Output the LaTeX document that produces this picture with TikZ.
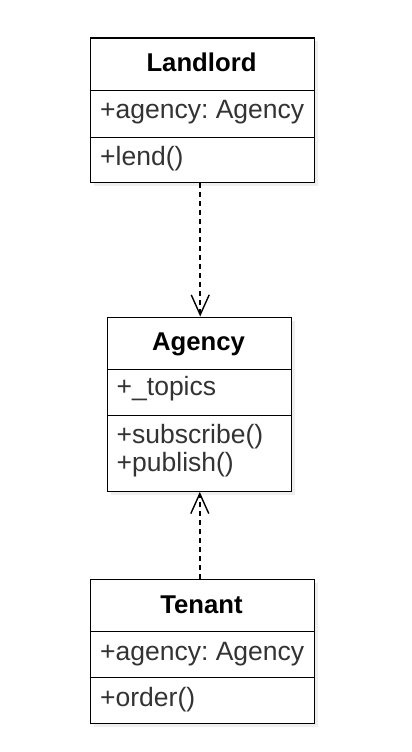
\documentclass[tikz,border=0pt]{standalone}
\usepackage{fontspec}
\setmainfont{Liberation Sans}
\usetikzlibrary{arrows.meta}
\definecolor{txt}{HTML}{333333}
\definecolor{shadowc}{HTML}{EEEEEE}
\frenchspacing
\tikzset{
  comp/.style={draw=black, line width=1.4pt, rectangle, inner sep=0pt, anchor=north west, fill=white},
  shad/.style={fill=shadowc, draw=none},
  title/.style={font=\fontsize{25.7}{28}\selectfont\bfseries, text=black, inner sep=0pt, anchor=base},
  member/.style={font=\fontsize{26.5}{28}\selectfont, text=txt, inner sep=0pt, anchor=base west},
  dep/.style={line width=1.5pt, dash pattern=on 5pt off 4pt, -{Straight Barb[length=20pt,width=18pt,line width=1.4pt]}}
}
\begin{document}
\begin{tikzpicture}[x=1pt,y=-1pt]
\useasboundingbox (0,0) rectangle (412,752);
% shadows
\fill[shad] (93.5,41.5) rectangle (317.5,185.5);
\fill[shad] (110.5,320.5) rectangle (294.5,494.5);
\fill[shad] (93.5,583) rectangle (317.5,726.5);
% Landlord
\node[comp, minimum width=224pt, minimum height=52.5pt] (lT) at (89.5,37.5) {};
\node[comp, minimum width=224pt, minimum height=46.5pt] (lA) at (89.5,90) {};
\node[comp, minimum width=224pt, minimum height=45pt] (lM) at (89.5,136.5) {};
\node[title] (lTt) at (201.5,71.7) {Landlord};
\node[member] (lAt) at (100,118) {+agency: Agency};
\node[member] (lMt) at (100,165) {+lend()};
% Agency
\node[comp, minimum width=184pt, minimum height=52pt] (aT) at (106.5,316.5) {};
\node[comp, minimum width=184pt, minimum height=46.5pt] (aA) at (106.5,368.5) {};
\node[comp, minimum width=184pt, minimum height=75.5pt] (aM) at (106.5,415) {};
\node[title] (aTt) at (198.5,350) {Agency};
\node[member] (aAt) at (116.5,395) {+\_topics};
\node[member] (aM1) at (116.5,443.3) {+subscribe()};
\node[member] (aM2) at (116.5,471.5) {+publish()};
% Tenant
\node[comp, minimum width=224pt, minimum height=51.5pt] (tT) at (89.5,579) {};
\node[comp, minimum width=224pt, minimum height=46pt] (tA) at (89.5,630.5) {};
\node[comp, minimum width=224pt, minimum height=46pt] (tM) at (89.5,676.5) {};
\node[title] (tTt) at (201.5,613.3) {Tenant};
\node[member] (tAt) at (100,660) {+agency: Agency};
\node[member] (tMt) at (100,706.7) {+order()};
% connectors
\coordinate (c1) at ([xshift=1pt]aT.north |- lM.south);
\draw[dep] (c1) -- ([xshift=1pt]aT.north);
\coordinate (c2) at ([xshift=0.6pt]aM.south |- tT.north);
\draw[dep] (c2) -- ([xshift=0.6pt]aM.south);
\end{tikzpicture}
\end{document}
